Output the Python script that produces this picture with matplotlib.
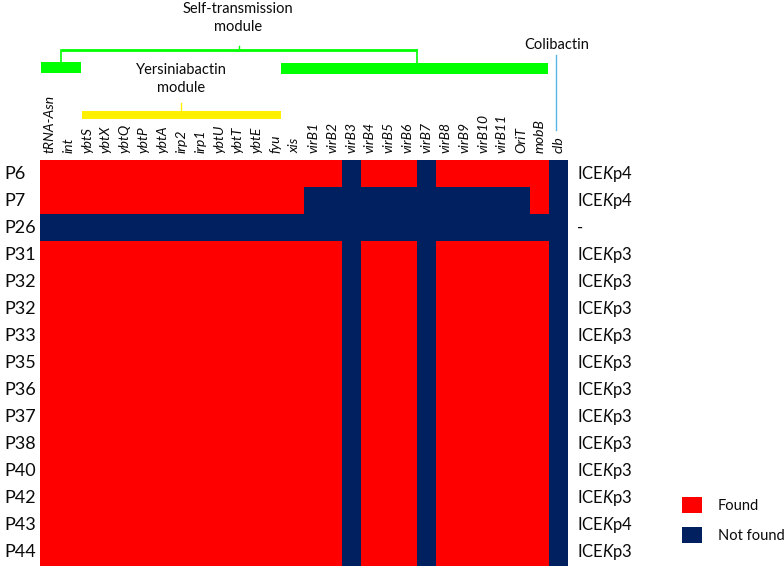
import numpy as np
import matplotlib
matplotlib.use("Agg")
import matplotlib.pyplot as plt
from matplotlib.colors import ListedColormap
from matplotlib.patches import Rectangle

plt.rcParams['font.family'] = ['Lato', 'DejaVu Sans']
plt.rcParams['mathtext.fontset'] = 'custom'
plt.rcParams['mathtext.rm'] = 'Lato'
plt.rcParams['mathtext.it'] = 'Lato:italic'

genes = ["tRNA-Asn", "int", "ybtS", "ybtX", "ybtQ", "ybtP", "ybtA", "irp2", "irp1",
         "ybtU", "ybtT", "ybtE", "fyu", "xis", "virB1", "virB2", "virB3", "virB4",
         "virB5", "virB6", "virB7", "virB8", "virB9", "virB10", "virB11", "OriT",
         "mobB", "clb"]
isolates = ["P6", "P7", "P26", "P31", "P32", "P32", "P33", "P35", "P36", "P37",
            "P38", "P40", "P42", "P43", "P44"]
ice_types = ["ICE$\\mathit{K}$p4", "ICE$\\mathit{K}$p4", "-", "ICE$\\mathit{K}$p3",
             "ICE$\\mathit{K}$p3", "ICE$\\mathit{K}$p3", "ICE$\\mathit{K}$p3",
             "ICE$\\mathit{K}$p3", "ICE$\\mathit{K}$p3", "ICE$\\mathit{K}$p3",
             "ICE$\\mathit{K}$p3", "ICE$\\mathit{K}$p3", "ICE$\\mathit{K}$p3",
             "ICE$\\mathit{K}$p4", "ICE$\\mathit{K}$p3"]

# 1 = found, 0 = not found
row_full = [1, 1, 1, 1, 1, 1, 1, 1, 1, 1, 1, 1, 1, 1, 1, 1, 0, 1, 1, 1, 0, 1, 1, 1, 1, 1, 1, 0]
row_p7 = [1, 1, 1, 1, 1, 1, 1, 1, 1, 1, 1, 1, 1, 1, 0, 0, 0, 0, 0, 0, 0, 0, 0, 0, 0, 0, 1, 0]
row_none = [0, 0, 0, 0, 0, 0, 0, 0, 0, 0, 0, 0, 0, 0, 0, 0, 0, 0, 0, 0, 0, 0, 0, 0, 0, 0, 0, 0]
presence = [row_full, row_p7, row_none] + [row_full] * 12

legend_labels = ["Found", "Not found"]

RED = "#FF0000"
NAVY = "#002060"
GREEN = "#00FF00"
YELLOW = "#FFF000"
BLUE = "#5BB4E5"
TXT = "#0a0a0a"

W, H = 784, 572
fig = plt.figure(figsize=(W / 100, H / 100), dpi=100)
ax = fig.add_axes([40 / W, 6 / H, 528 / W, 406 / H])
mat = np.array(presence)
ax.pcolormesh(mat, cmap=ListedColormap([NAVY, RED]), vmin=0, vmax=1)
ax.set_xlim(0, len(genes))
ax.set_ylim(len(isolates), 0)
for s in ax.spines.values():
    s.set_visible(False)

ax.xaxis.tick_top()
ax.set_xticks(np.arange(len(genes)) + 0.5)
ax.set_xticklabels(genes, rotation=90, fontsize=10, fontstyle='italic', color=TXT)
ax.tick_params(axis='x', length=0, pad=5)
ax.set_yticks([])

for i, (p, ice) in enumerate(zip(isolates, ice_types)):
    ax.text(-1.88, i + 0.5, p, ha='left', va='center', fontsize=13, color=TXT)
    ax.text(28.5, i + 0.5, ice, ha='left', va='center', fontsize=12, color=TXT)

# module annotations (data coords: col units in x, row units in y)
def py(v):
    return (v - 160) / 27.07

kw = dict(clip_on=False)
ax.add_patch(Rectangle((0.05, py(62)), 2.12, py(73) - py(62), color=GREEN, lw=0, **kw))
ax.add_patch(Rectangle((12.78, py(63)), 14.16, py(74) - py(63), color=GREEN, lw=0, **kw))
ax.add_patch(Rectangle((2.23, py(111)), 10.55, py(119) - py(111), color=YELLOW, lw=0, **kw))
ax.plot([7.48, 7.48], [py(111), py(103)], color=YELLOW, lw=1, **kw)
ax.plot([1.1, 20.0], [py(50), py(50)], color=GREEN, lw=2, solid_capstyle='butt', **kw)
ax.plot([1.1, 1.1], [py(50), py(63)], color=GREEN, lw=1.2, **kw)
ax.plot([20.0, 20.0], [py(50), py(64)], color=GREEN, lw=1.2, **kw)
ax.plot([10.55, 10.55], [py(50), py(46)], color=GREEN, lw=1, **kw)
ax.plot([27.35, 27.35], [py(55), py(130)], color=BLUE, lw=1, **kw)

ax.text(10.5, py(34), "Self-transmission\nmodule", ha='center', va='bottom',
        fontsize=10.5, linespacing=1.4, color=TXT)
ax.text(7.48, py(95), "Yersiniabactin\nmodule", ha='center', va='bottom',
        fontsize=10.5, linespacing=1.4, color=TXT)
ax.text(27.42, py(45), "Colibactin", ha='center', va='center',
        fontsize=10.5, color=TXT)

# legend
for k, (lab, col) in enumerate(zip(legend_labels, [RED, NAVY])):
    y0 = 497 + k * 30
    fig.patches.append(Rectangle((682 / W, 1 - (y0 + 16) / H), 20 / W, 16 / H,
                                 transform=fig.transFigure, color=col, lw=0))
    fig.text(718 / W, 1 - (y0 + 9) / H, lab, ha='left', va='center', fontsize=10.5,
             color=TXT)

fig.savefig("out.png", dpi=100)
